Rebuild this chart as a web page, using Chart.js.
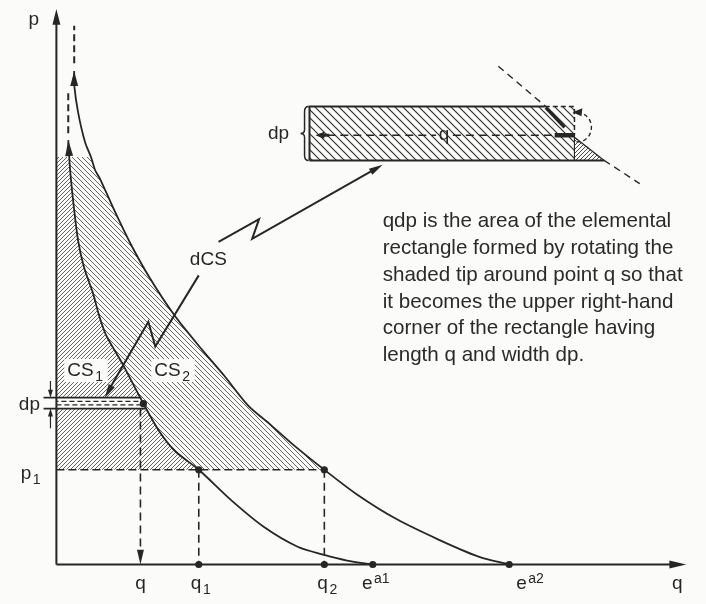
<!DOCTYPE html>
<html><head><meta charset="utf-8">
<script src="https://cdn.jsdelivr.net/npm/chart.js@4/dist/chart.umd.min.js"></script>
<style>html,body{margin:0;padding:0;background:#fbfbf9;}#wrap{width:706px;height:604px;position:relative;}</style>
</head><body><div id="wrap"><canvas id="c"></canvas></div>
<script>
// ---------- data (diagram units; origin at the corner of the axes) ----------
const demand1Q = [12, 13, 14, 17, 22, 28, 37, 43, 50, 67, 88, 104, 120, 144, 177, 210, 244, 270, 294, 320];
const demand1P = [430, 413, 398, 368, 328, 301, 275, 253, 233, 203, 163, 135, 115, 96, 65, 38, 18, 10, 4, 0];
const demand2Q = [18, 18, 22, 29, 35, 39, 44, 59, 75, 94, 119, 147, 170, 194, 215, 240, 271, 304, 344, 387, 427, 458];
const demand2P = [500, 486, 458, 428, 413, 400, 391, 358, 325, 291, 253, 218, 191, 161, 143, 121, 96, 71, 46, 25, 8, 0];
const pLevels = [96];
const pLabels = ['p_1'];
const shadeTop = [413];
const dpBand = [158, 169];
const dpPoint = [88, 163];
const qMarks = [85, 144, 271, 320, 458];
const qLabels = ['q', 'q_1', 'q_2', 'e^a1', 'e^a2'];
const dashExt1 = [437, 478];
const dashExt2 = [508, 546];
const axisEnd = [637, 563];
const noteLines = [
  'qdp is the area of the elemental',
  'rectangle formed by rotating the',
  'shaded tip around point q so that',
  'it becomes the upper right-hand',
  'corner of the rectangle having',
  'length q and width dp.'
];
const regionLabels = ['CS_1', 'CS_2', 'dCS'];

// ---------- inset (magnified strip) geometry, diagram units ----------
const inset = {left: 256, right: 524, top: 464, bottom: 409.5, mid: 435, tipStart: 494, triEnd: 554};
const insetCurveUpper = [{x: 447, y: 505}, {x: 495, y: 464}];
const insetCurveTip = [{x: 495, y: 463}, {x: 514, y: 443}];
const insetCurveLower = [{x: 554, y: 409.5}, {x: 590, y: 386}];
const zigUpper = [{x: 164, y: 327}, {x: 205, y: 350}, {x: 198, y: 330}, {x: 330, y: 405}];
const zigLower = [{x: 144, y: 293}, {x: 100, y: 221}, {x: 93, y: 246}, {x: 49, y: 169}];

const INK = '#262626';
const FONT = '"Liberation Sans", Arial, Helvetica, sans-serif';

function hatch(dir, w, h, color, lw) {
  const c = document.createElement('canvas');
  c.width = w; c.height = h;
  const g = c.getContext('2d');
  g.strokeStyle = color; g.lineWidth = lw; g.lineCap = 'square';
  g.beginPath();
  for (let k = -1; k <= 1; k++) {
    if (dir === '\\') { g.moveTo(k * w, 0); g.lineTo(k * w + w, h); }
    else { g.moveTo(k * w, h); g.lineTo(k * w + w, 0); }
  }
  g.stroke();
  return g.createPattern(c, 'repeat');
}

const pts = (qs, ps) => qs.map((q, i) => ({x: q, y: ps[i]}));
const d1 = pts(demand1Q, demand1P);
const d2 = pts(demand2Q, demand2P);
const inBand = p => p.y >= pLevels[0] && p.y <= shadeTop[0];
const d1Band = d1.filter(inBand);
const d2Band = d2.filter(inBand);

function arrowHead(tip, from, len, w) {
  let dx = tip.x - from.x, dy = tip.y - from.y;
  const L = Math.hypot(dx, dy); dx /= L; dy /= L;
  const bx = tip.x - dx * len, by = tip.y - dy * len;
  const nx = -dy, ny = dx;
  return [tip, {x: bx + nx * w / 2, y: by + ny * w / 2}, {x: bx - nx * w / 2, y: by - ny * w / 2}, tip];
}
function line(data, o) {
  return Object.assign({data, showLine: true, borderColor: INK, borderWidth: 1.6, pointRadius: 0, fill: false, tension: 0, borderCapStyle: 'butt'}, o || {});
}
function poly(data, bg) {
  return {data, showLine: true, borderWidth: 0, borderColor: 'rgba(0,0,0,0)', pointRadius: 0, fill: 'shape', backgroundColor: bg, tension: 0};
}
function head(tip, from, len, w) {
  return poly(arrowHead(tip, from, len, w), INK);
}

const patCS1 = hatch('/', 4, 4, '#4a4a4a', 0.85);
const patCS2 = hatch('\\', 5, 5, '#4a4a4a', 0.85);
const patInset = hatch('\\', 8, 8, '#333333', 1.2);
const patTri = hatch('/', 4, 4, '#333333', 0.9);

const p1 = pLevels[0];
const layers = [];
// shaded areas
layers.push(poly([{x: 0, y: shadeTop[0]}, ...d1Band, {x: 0, y: p1}], patCS1));
layers.push(poly([...d2Band, ...d1Band.slice().reverse()], patCS2));
// dp strip
layers.push(poly([{x: 0, y: dpBand[0]}, {x: 0, y: dpBand[1]}, {x: dpPoint[0] - 2, y: dpBand[1]}, {x: dpPoint[0] + 2, y: dpBand[0]}], '#fbfbf9'));
layers.push(line([{x: 0, y: dpBand[0] + 3.7}, {x: dpPoint[0], y: dpBand[0] + 3.7}], {borderDash: [5, 3], borderWidth: 1.3}));
layers.push(line([{x: 0, y: dpBand[1] - 3.7}, {x: dpPoint[0] - 1, y: dpBand[1] - 3.7}], {borderDash: [5, 3], borderWidth: 1.3, borderDashOffset: 3}));
layers.push(line([{x: -13, y: dpBand[1]}, {x: dpPoint[0] - 2, y: dpBand[1]}], {borderWidth: 1.8}));
layers.push(line([{x: -13, y: dpBand[0]}, {x: dpPoint[0] + 2, y: dpBand[0]}], {borderWidth: 1.8}));
layers.push(line([{x: -6, y: dpBand[1] + 17}, {x: -6, y: dpBand[1] + 6}], {borderWidth: 1.2}));
layers.push(head({x: -6, y: dpBand[1]}, {x: -6, y: dpBand[1] + 10}, 8, 5));
layers.push(line([{x: -6, y: dpBand[0] - 20}, {x: -6, y: dpBand[0] - 6}], {borderWidth: 1.2}));
layers.push(head({x: -6, y: dpBand[0]}, {x: -6, y: dpBand[0] - 10}, 8, 5));
// dashed guides
layers.push(line([{x: 0, y: p1}, {x: qMarks[2], y: p1}], {borderDash: [8, 4], borderWidth: 1.6}));
layers.push(line([{x: qMarks[1], y: p1}, {x: qMarks[1], y: 0}], {borderDash: [8, 5], borderWidth: 1.6}));
layers.push(line([{x: qMarks[2], y: p1}, {x: qMarks[2], y: 0}], {borderDash: [8, 5], borderWidth: 1.6}));
layers.push(line([{x: qMarks[0], y: dpBand[0]}, {x: qMarks[0], y: 10}], {borderDash: [8, 5], borderWidth: 1.6}));
layers.push(head({x: qMarks[0], y: 0}, {x: qMarks[0], y: 20}, 15, 7));
// curve extensions
layers.push(line([{x: d1[0].x, y: dashExt1[0]}, {x: d1[0].x, y: dashExt1[1]}], {borderDash: [7, 4], borderWidth: 2}));
layers.push(line([{x: d2[0].x, y: dashExt2[0]}, {x: d2[0].x, y: dashExt2[1]}], {borderDash: [7, 4], borderWidth: 2}));
// demand curves
layers.push(line(d1, {borderWidth: 1.8, tension: 0.3}));
layers.push(line(d2, {borderWidth: 1.8, tension: 0.3}));
layers.push(head(d1[0], d1[1], 16, 8));
layers.push(head(d2[0], d2[1], 15, 8));
// axes
layers.push(line([{x: 0, y: 0}, {x: 0, y: axisEnd[1] - 8}], {borderWidth: 2}));
layers.push(line([{x: 0, y: 0}, {x: axisEnd[0] - 8, y: 0}], {borderWidth: 2}));
layers.push(head({x: 0, y: axisEnd[1]}, {x: 0, y: 0}, 16, 8));
layers.push(head({x: axisEnd[0], y: 0}, {x: 0, y: 0}, 17, 8));
// zigzag pointers
layers.push(line(zigUpper.slice(0, 3).concat([{x: zigUpper[3].x - 6, y: zigUpper[3].y - 3.4}]), {borderWidth: 2}));
layers.push(head(zigUpper[3], zigUpper[2], 14, 7));
layers.push(line(zigLower.slice(0, 3).concat([{x: zigLower[3].x + 3, y: zigLower[3].y + 6}]), {borderWidth: 2}));
layers.push(head(zigLower[3], zigLower[2], 14, 7));
// inset
layers.push(poly([{x: inset.left, y: inset.bottom}, {x: inset.left, y: inset.top}, {x: inset.right, y: inset.top}, {x: inset.right, y: inset.bottom}], patInset));
layers.push(poly([{x: inset.right, y: inset.mid - 2}, {x: inset.right, y: inset.bottom}, {x: inset.triEnd, y: inset.bottom}], patTri));
layers.push(line([{x: inset.left, y: inset.bottom}, {x: inset.left, y: inset.top}, {x: inset.tipStart, y: inset.top}], {borderWidth: 2}));
layers.push(line([{x: inset.left, y: inset.bottom}, {x: inset.triEnd, y: inset.bottom}], {borderWidth: 2}));
layers.push(line([{x: inset.tipStart, y: inset.top}, {x: inset.right, y: inset.top}, {x: inset.right, y: inset.mid}], {borderDash: [5, 3], borderWidth: 1.5}));
layers.push(line([{x: inset.right, y: inset.mid}, {x: inset.right, y: inset.bottom}], {borderWidth: 1}));
layers.push(line([{x: inset.right, y: inset.mid - 2}, {x: inset.triEnd, y: inset.bottom}], {borderWidth: 1.3}));
layers.push(line(insetCurveUpper, {borderDash: [7, 5], borderWidth: 1.4}));
layers.push(line(insetCurveLower, {borderDash: [7, 5], borderWidth: 1.4}));
layers.push(line(insetCurveTip, {borderWidth: 3.2}));
layers.push(line([{x: inset.left + 18, y: inset.mid}, {x: 384, y: inset.mid}], {borderDash: [8, 5], borderWidth: 1.6}));
layers.push(line([{x: 401, y: inset.mid}, {x: inset.right - 18, y: inset.mid}], {borderDash: [8, 5], borderWidth: 1.6}));
layers.push(line([{x: inset.right - 20, y: inset.mid}, {x: inset.right, y: inset.mid}], {borderWidth: 4.5}));
layers.push(line([{x: inset.left + 10, y: inset.mid}, {x: inset.left + 20, y: inset.mid}], {borderWidth: 3}));
layers.push(head({x: inset.left + 6, y: inset.mid}, {x: inset.left + 20, y: inset.mid}, 9, 7));
// dots
layers.push({data: [{x: qMarks[1], y: p1}, {x: qMarks[2], y: p1}, {x: qMarks[1], y: 0}, {x: qMarks[2], y: 0}, {x: qMarks[3], y: 0}, {x: qMarks[4], y: 0}, {x: dpPoint[0], y: dpPoint[1]}],
  showLine: false, pointRadius: 3.6, pointBackgroundColor: INK, pointBorderWidth: 0});

const datasets = layers.reverse();

function rich(ctx, s, x, y, size, align) {
  let base = s, mod = '', kind = '';
  const m = s.match(/^([^_^]+)([_^])(.+)$/);
  if (m) { base = m[1]; kind = m[2]; mod = m[3]; }
  const small = Math.round(size * 0.72);
  ctx.font = size + 'px ' + FONT;
  const wb = ctx.measureText(base).width;
  ctx.font = small + 'px ' + FONT;
  const wm = mod ? ctx.measureText(mod).width + 1.5 : 0;
  const x0 = align === 'center' ? x - (wb + wm) / 2 : x;
  ctx.textAlign = 'left'; ctx.textBaseline = 'alphabetic';
  ctx.font = size + 'px ' + FONT;
  ctx.fillText(base, x0, y);
  if (mod) {
    ctx.font = small + 'px ' + FONT;
    ctx.fillText(mod, x0 + wb + 1.5, kind === '_' ? y + 5 : y - 6);
  }
  return {x: x0, w: wb + wm};
}

const labelPlugin = {
  id: 'labels',
  beforeDraw(chart) {
    const c = chart.ctx; c.save(); c.fillStyle = '#fbfbf9'; c.fillRect(0, 0, chart.width, chart.height); c.restore();
  },
  afterDatasetsDraw(chart) {
    const ctx = chart.ctx, X = v => chart.scales.x.getPixelForValue(v), Y = v => chart.scales.y.getPixelForValue(v);
    ctx.save();
    ctx.fillStyle = INK; ctx.strokeStyle = INK;
    rich(ctx, 'p', X(-23), Y(547), 19, 'center');
    rich(ctx, 'q', X(628), Y(-25), 19, 'center');
    const dx = [0, 2, 3, 3, 21];
    qMarks.forEach((q, i) => rich(ctx, qLabels[i], X(q + dx[i]), Y(-25), 19, 'center'));
    pLabels.forEach((s, i) => rich(ctx, s, X(-36), Y(pLevels[i] - 9), 19, 'left'));
    rich(ctx, 'dp', X(-38), Y(dpBand[0] - 1), 19, 'left');
    const rl = [[11, 191], [99, 191]];
    rl.forEach((p, i) => {
      ctx.font = '19px ' + FONT;
      const w = ctx.measureText('CS').width + 11;
      ctx.fillStyle = '#fbfbf9';
      ctx.fillRect(X(p[0]) - 3, Y(p[1]) - 17, w + 6, 23);
      ctx.fillStyle = INK;
      rich(ctx, regionLabels[i], X(p[0]), Y(p[1]), 19, 'left');
    });
    rich(ctx, regionLabels[2], X(135), Y(303), 19, 'left');
    rich(ctx, 'dp', X(214), Y(431), 19, 'left');
    rich(ctx, 'q', X(392), Y(430), 19, 'center');
    // brace
    const bx = X(inset.left - 5), bt = Y(inset.top), bb = Y(inset.bottom), bm = (bt + bb) / 2;
    ctx.lineWidth = 1.5; ctx.beginPath();
    ctx.moveTo(bx + 4, bt);
    ctx.quadraticCurveTo(bx, bt, bx, bt + 5);
    ctx.lineTo(bx, bm - 4);
    ctx.quadraticCurveTo(bx, bm, bx - 4, bm);
    ctx.quadraticCurveTo(bx, bm, bx, bm + 4);
    ctx.lineTo(bx, bb - 5);
    ctx.quadraticCurveTo(bx, bb, bx + 4, bb);
    ctx.stroke();
    // rotation arrow
    const cx = X(inset.right + 4), cy = Y(inset.mid + 8);
    ctx.setLineDash([4, 3]); ctx.lineWidth = 1.4;
    ctx.beginPath(); ctx.ellipse(cx, cy, 13, 14.5, 0, Math.PI * 0.55, -Math.PI * 0.62, true); ctx.stroke();
    ctx.setLineDash([]);
    const tx = cx - 3, ty = cy - 15;
    ctx.beginPath(); ctx.moveTo(tx - 3, ty); ctx.lineTo(tx + 7, ty - 4); ctx.lineTo(tx + 6, ty + 4); ctx.closePath(); ctx.fill();
    // note text
    ctx.fillStyle = '#2a2a2a';
    noteLines.forEach((s, i) => rich(ctx, s, X(330), Y(342 - 27.2 * i), 20.6, 'left'));
    ctx.restore();
  }
};

new Chart(document.getElementById('c'), {
  type: 'scatter',
  data: {datasets},
  options: {
    responsive: true, maintainAspectRatio: false, animation: false, events: [],
    layout: {padding: 0},
    scales: {
      x: {type: 'linear', min: -53, max: 653, display: false},
      y: {type: 'linear', min: -36, max: 568, display: false}
    },
    plugins: {legend: {display: false}, tooltip: {enabled: false}}
  },
  plugins: [labelPlugin]
});
</script></body></html>
